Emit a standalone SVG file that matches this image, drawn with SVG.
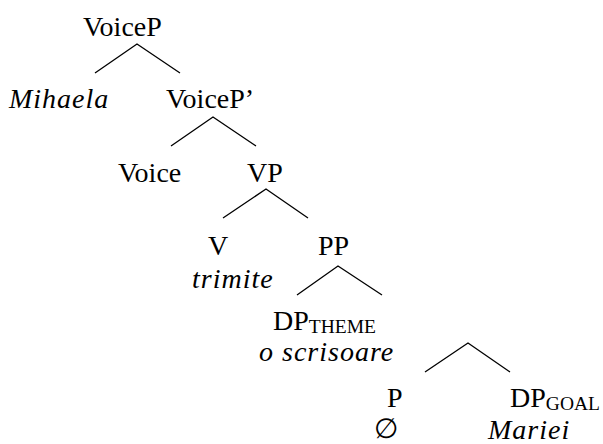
<svg xmlns="http://www.w3.org/2000/svg" width="603" height="444" viewBox="0 0 603 444">
  <style>
    text { font-family: 'Liberation Serif', 'DejaVu Serif', serif; font-size: 28px; fill: #000; }
    .it { font-style: italic; letter-spacing: 1px; }
    .sub { font-size: 19.5px; }
    .edge { stroke: #000; stroke-width: 1.3; fill: none; }
  </style>
  <rect width="603" height="444" fill="#fff"/>

  <!-- branches -->
  <g id="connectors">
    <path class="edge" d="M95,73 L137,44 L180,73"/>
    <path class="edge" d="M171,146 L213,117 L256,146"/>
    <path class="edge" d="M223,218 L266,189 L308,218"/>
    <path class="edge" d="M297,295 L338,266 L382,295"/>
    <path class="edge" d="M425,372 L468,343 L510,372"/>
  </g>

  <g id="voicep"><text x="83" y="36">VoiceP</text></g>
  <g id="mihaela"><text class="it" x="9" y="108">Mihaela</text></g>
  <g id="voicep-bar"><text x="166" y="108">VoiceP’</text></g>
  <g id="voice"><text x="118" y="182">Voice</text></g>
  <g id="vp"><text x="247" y="182">VP</text></g>
  <g id="v">
    <text x="208" y="255">V</text>
    <text class="it" x="192" y="288">trimite</text>
  </g>
  <g id="pp"><text x="318" y="255">PP</text></g>
  <g id="dp-theme">
    <text x="273" y="330">DP<tspan class="sub" dy="3">THEME</tspan></text>
    <text class="it" x="259" y="361">o scrisoare</text>
  </g>
  <g id="p">
    <text x="387" y="407">P</text>
    <text x="374" y="438">∅</text>
  </g>
  <g id="dp-goal">
    <text x="510" y="407">DP<tspan class="sub" dy="3">GOAL</tspan></text>
    <text class="it" x="488" y="439">Mariei</text>
  </g>
</svg>
